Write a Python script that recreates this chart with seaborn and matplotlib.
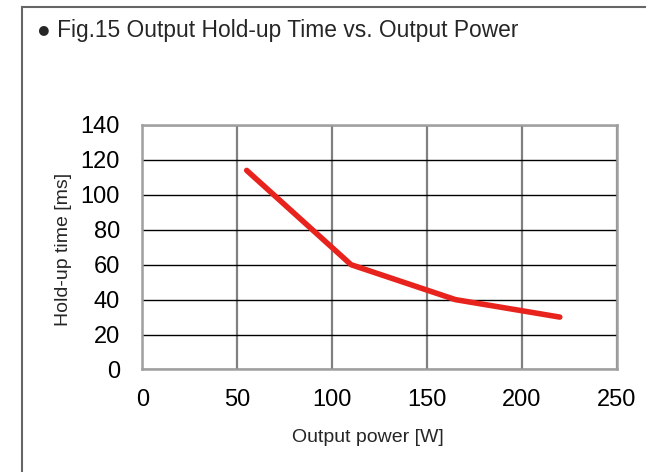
import matplotlib
matplotlib.use("Agg")
import matplotlib.pyplot as plt
import seaborn as sns
from matplotlib.patches import Rectangle

# data
power_w = [55, 110, 165, 220]
holdup_ms = [114, 60, 40, 30]
x_ticks = [0, 50, 100, 150, 200, 250]
y_ticks = [0, 20, 40, 60, 80, 100, 120, 140]

sns.set_style("white")
plt.rcParams["font.family"] = ["Liberation Sans", "DejaVu Sans"]

fig = plt.figure(figsize=(6.46, 4.72), dpi=100)
ax = fig.add_axes([0.2203, 0.2172, 0.7344, 0.518])

sns.lineplot(x=power_w, y=holdup_ms, ax=ax, color="#e8231d", linewidth=4.0)

ax.set_xlim(0, 250)
ax.set_ylim(0, 140)
ax.set_xticks(x_ticks)
ax.set_yticks(y_ticks)
ax.tick_params(axis="both", length=0, labelsize=17, colors="black")
ax.tick_params(axis="y", pad=16)
ax.tick_params(axis="x", pad=14)

ax.xaxis.grid(True, color="#808080", linewidth=1.6)
ax.yaxis.grid(True, color="black", linewidth=1.0)
ax.set_axisbelow(True)
for sp in ax.spines.values():
    sp.set_visible(True)
    sp.set_color("#a0a0a0")
    sp.set_linewidth(1.8)

ax.set_xlabel("Output power [W]", fontsize=14)
ax.set_ylabel("Hold-up time [ms]", fontsize=14)
ax.xaxis.set_label_coords(0.475, -0.2446)
ax.yaxis.set_label_coords(-0.148, 0.489)

fig.text(37 / 646, 1 - 37 / 472, "\u25cf Fig.15 Output Hold-up Time vs. Output Power",
         fontsize=16.4, ha="left", va="baseline")

# outer frame
fig.patches.append(Rectangle((22 / 646, -0.1), 1.2, 1.1 - 7.5 / 472,
                             transform=fig.transFigure, fill=False,
                             edgecolor="#666666", linewidth=1.5))

plt.savefig("out.png", dpi=100)
